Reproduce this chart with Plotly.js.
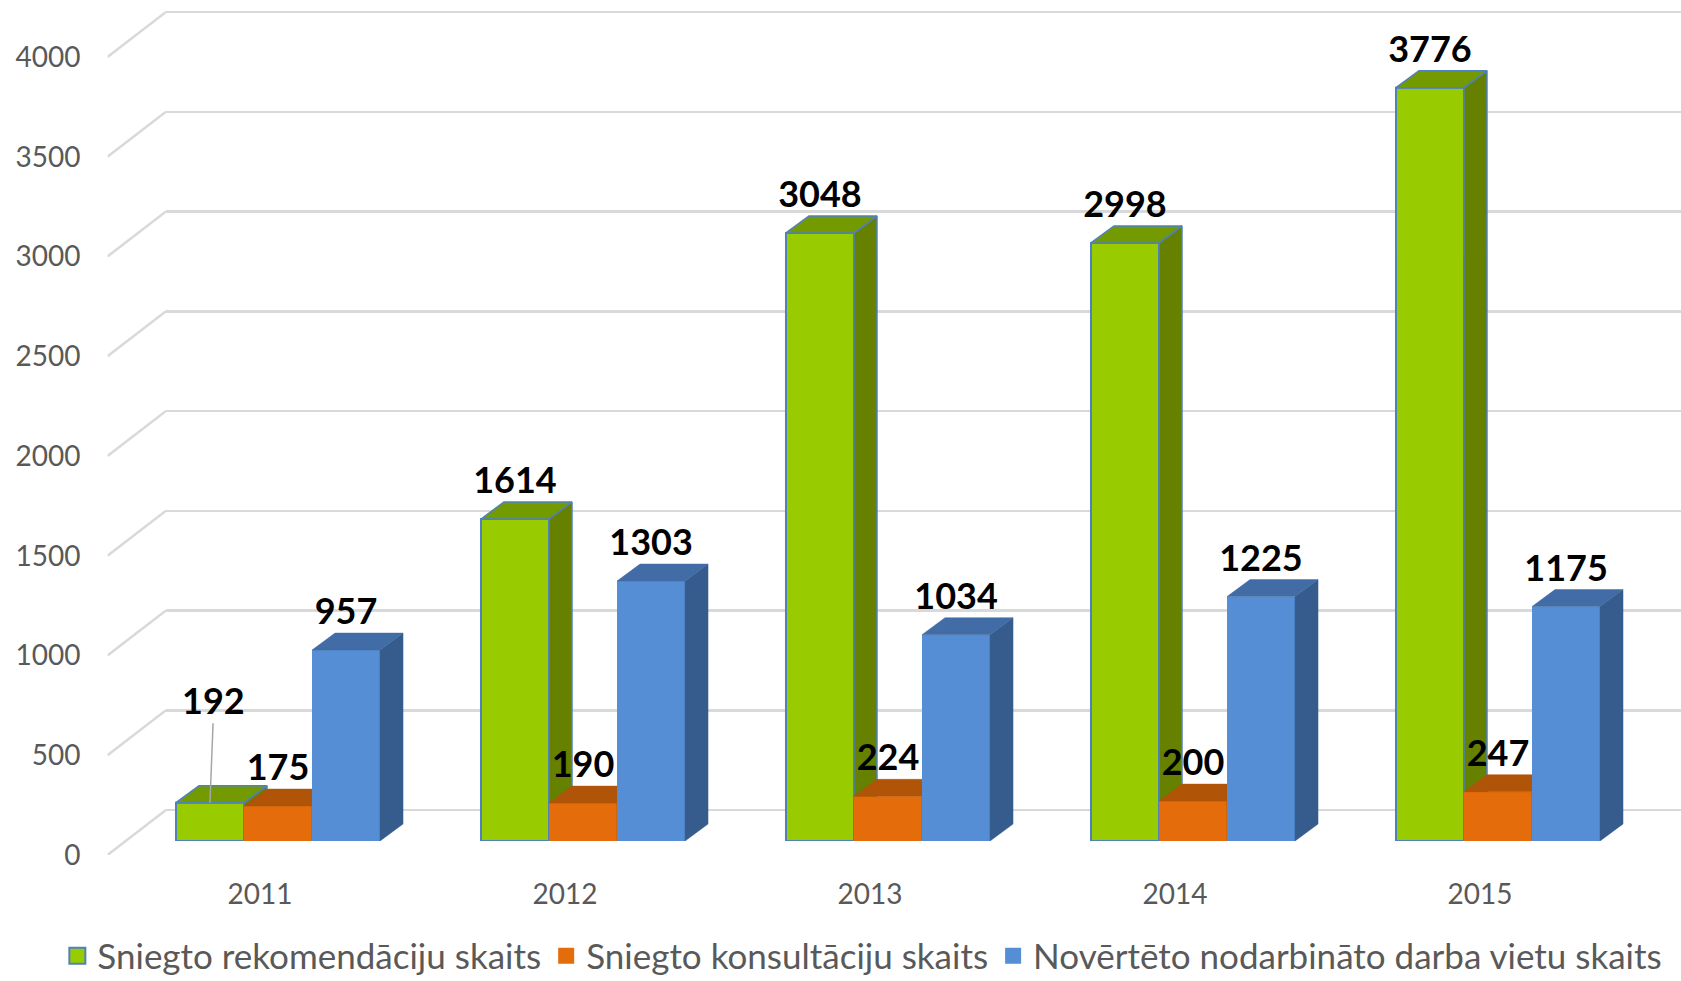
<!DOCTYPE html>
<html><head><meta charset="utf-8">
<script src="https://cdn.plot.ly/plotly-3.0.1.min.js"></script>
<style>html,body{margin:0;padding:0;background:#fff;overflow:hidden}#chart{width:1681px;height:981px}</style>
</head><body><div id="chart"></div>
<script>
// ---- data ----
const years = ['2011','2012','2013','2014','2015'];
const recommendations = [192,1614,3048,2998,3776];
const consultations = [175,190,224,200,247];
const assessedJobs = [957,1303,1034,1225,1175];
const seriesNames = ['Sniegto rekomendāciju skaits','Sniegto konsultāciju skaits','Novērtēto nodarbināto darba vietu skaits'];
const yTickValues = [0,500,1000,1500,2000,2500,3000,3500,4000];
const yTickLabels = yTickValues.map(String);

// ---- layout geometry (pixels) ----
const W = 1681, H = 981;
const Y_MAX = 4000;
const SCALE = 798 / 4000;          // px per value unit
const CAT_PX = 305;                // px per category
const LABEL_ZERO = 855, BAR_ZERO = 841, WALL_ZERO = 810;
const BARS_LEFT = 125.5, LABEL_SHIFT = 18, WALL_LEFT = 166, DIAG_LEFT = 107.5;
const BAR_DEPTH_X = 23, BAR_DEPTH_Y = 17;
const WALL_DY = LABEL_ZERO - WALL_ZERO;
const GROUP_W = 0.669, BAR_W = GROUP_W / 3;
const dX = BAR_DEPTH_X / CAT_PX, dY = BAR_DEPTH_Y / SCALE;
const LEGEND_CENTER_PX = 956;

function yDom(zeroPx, lo, hi) { return [(H - (zeroPx - lo * SCALE)) / H, (H - (zeroPx - hi * SCALE)) / H]; }
function xDom(leftPx, n) { return [leftPx / W, (leftPx + n * CAT_PX) / W]; }

const series = [recommendations, consultations, assessedJobs];
const styles = [
  {front:'#99CC00', top:'#739A00', side:'#668000', line:'#4F81BD', lw:2},
  {front:'#E46C0A', top:'#B05408', side:'#9A4808', line:'#E46C0A', lw:0},
  {front:'#558ED5', top:'#416CA6', side:'#355C8C', line:'#558ED5', lw:0}
];
const callout = {series:0, point:0};
const labelFont = {family:'Lato', size:36, color:'#000000', weight:700};
const axisFont = {family:'Lato', size:28, color:'#595959'};
const legendFont = {family:'Lato', size:35, color:'#595959'};
const idx = years.map((_, i) => i);

const traces = [];
// legend entries (on back-wall subplot)
series.forEach((s, j) => {
  traces.push({type:'scatter', mode:'markers', x:[null], y:[null], xaxis:'x', yaxis:'y',
    name: seriesNames[j], showlegend:true,
    marker:{symbol:'square', size:16, color:styles[j].front,
            line:{color: j === 0 ? styles[0].line : styles[j].front, width: j === 0 ? 2 : 0}}});
});
// diagonal wall edges
const dxs = [], dys = [];
yTickValues.forEach(v => { dxs.push(0, 1, null); dys.push(v, v + WALL_DY / SCALE, null); });
traces.push({type:'scatter', mode:'lines', x:dxs, y:dys, xaxis:'x2', yaxis:'y2', showlegend:false,
  line:{color:'#D9D9D9', width:2.5}, hoverinfo:'skip'});
// dummy for category label axis
traces.push({type:'scatter', mode:'markers', x:[null], y:[null], xaxis:'x6', yaxis:'y2', showlegend:false, hoverinfo:'skip'});

series.forEach((vals, j) => {
  const xa = j === 0 ? 'x3' : 'x' + (3 + j);
  const ya = j === 0 ? 'y3' : 'y' + (3 + j);
  const off = -GROUP_W / 2 + j * BAR_W;
  const st = styles[j];
  traces.push({type:'bar', x:idx, y:vals, width:BAR_W, offset:off, xaxis:xa, yaxis:ya, showlegend:false,
    marker:{color:st.front, line:{color:st.line, width:st.lw}}, hoverinfo:'skip'});
  const sx = [], sy = [], tx = [], ty = [];
  vals.forEach((v, i) => {
    const l = i + off, r = l + BAR_W;
    sx.push(r, r + dX, r + dX, r, r, null); sy.push(0, dY, v + dY, v, 0, null);
    tx.push(l, l + dX, r + dX, r, l, null); ty.push(v, v + dY, v + dY, v, v, null);
  });
  traces.push({type:'scatter', mode:'lines', x:sx, y:sy, fill:'toself', fillcolor:st.side, xaxis:xa, yaxis:ya,
    line:{color: st.lw ? st.line : st.side, width: st.lw ? 1.5 : 0.5}, showlegend:false, hoverinfo:'skip'});
  traces.push({type:'scatter', mode:'lines', x:tx, y:ty, fill:'toself', fillcolor:st.top, xaxis:xa, yaxis:ya,
    line:{color: st.lw ? st.line : st.top, width: st.lw ? 1.5 : 0.5}, showlegend:false, hoverinfo:'skip'});
  traces.push({type:'scatter', mode:'text', x:idx.map(i => i + off + BAR_W / 2), y:vals.map(v => v + dY),
    text: vals.map((v, i) => (j === callout.series && i === callout.point) ? '' : String(v)),
    textposition:'top center', textfont:labelFont, cliponaxis:false, xaxis:xa, yaxis:ya,
    showlegend:false, hoverinfo:'skip'});
});

const calloutVals = series[callout.series];
const annotations = [{
  xref:'x3', yref:'y3', x: callout.point - GROUP_W / 2 + callout.series * BAR_W + BAR_W / 2,
  y: calloutVals[callout.point], text: String(calloutVals[callout.point]),
  showarrow:true, arrowhead:0, arrowwidth:1.5, arrowcolor:'#A6A6A6', ax:4, ay:-103, standoff:0,
  font: labelFont
}];

const hidden = {visible:false, fixedrange:true};
const labelTop = Y_MAX + WALL_DY / SCALE + 15;
const layout = {
  width:W, height:H, margin:{l:0, r:0, t:0, b:0, autoexpand:false}, autosize:false,
  paper_bgcolor:'#ffffff', plot_bgcolor:'rgba(0,0,0,0)', hovermode:false,
  font:{family:'Lato'},
  showlegend:true,
  legend:{orientation:'h', x:0.513, xanchor:'center', y:(H - LEGEND_CENTER_PX) / H, yanchor:'middle',
    font:legendFont, itemclick:false, itemdoubleclick:false, bgcolor:'rgba(0,0,0,0)'},
  xaxis: Object.assign({domain:[WALL_LEFT / W, 1], range:[0, 1], anchor:'y'}, hidden),
  yaxis: {domain:yDom(WALL_ZERO, -10, Y_MAX + 10), range:[-10, Y_MAX + 10], anchor:'x',
    showgrid:true, gridcolor:'#D9D9D9', gridwidth:2.5, zeroline:false, tickvals:yTickValues,
    showticklabels:false, ticks:'', showline:false, fixedrange:true},
  xaxis2: Object.assign({domain:[DIAG_LEFT / W, WALL_LEFT / W], range:[0, 1], anchor:'y2'}, hidden),
  yaxis2: {domain:yDom(LABEL_ZERO, 0, labelTop), range:[0, labelTop], anchor:'x2',
    tickvals:yTickValues, ticktext:yTickLabels, tickfont:axisFont, showgrid:false, zeroline:false,
    showline:false, ticks:'', ticklabelstandoff:26, fixedrange:true},
  xaxis6: {domain:xDom(BARS_LEFT - LABEL_SHIFT, years.length), range:[-0.5, years.length - 0.5], anchor:'y2',
    tickvals:idx, ticktext:years, tickfont:axisFont, showgrid:false, zeroline:false, showline:false,
    ticks:'', ticklabelstandoff:20, fixedrange:true},
  xaxis3: Object.assign({domain:xDom(BARS_LEFT, years.length), range:[-0.5, years.length - 0.5], anchor:'y3'}, hidden),
  yaxis3: Object.assign({domain:yDom(BAR_ZERO, 0, Y_MAX), range:[0, Y_MAX], anchor:'x3'}, hidden),
  xaxis4: Object.assign({overlaying:'x3', range:[-0.5, years.length - 0.5], anchor:'y4'}, hidden),
  yaxis4: Object.assign({overlaying:'y3', range:[0, Y_MAX], anchor:'x4'}, hidden),
  xaxis5: Object.assign({overlaying:'x3', range:[-0.5, years.length - 0.5], anchor:'y5'}, hidden),
  yaxis5: Object.assign({overlaying:'y3', range:[0, Y_MAX], anchor:'x5'}, hidden),
  annotations: annotations
};

Plotly.newPlot('chart', traces, layout, {staticPlot:true, displayModeBar:false});
</script></body></html>
